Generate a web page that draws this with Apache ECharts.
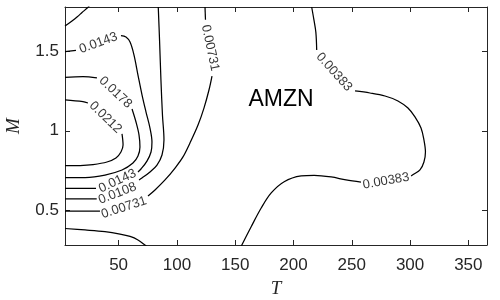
<!DOCTYPE html>
<html><head><meta charset="utf-8">
<script src="https://cdn.jsdelivr.net/npm/echarts@6/dist/echarts.min.js"></script>
<style>html,body{margin:0;padding:0;background:#fff}#c{width:500px;height:300px}</style>
</head><body><div id="c"></div>
<script>
// Axis ticks
const xTicks = [50, 100, 150, 200, 250, 300, 350];
const yTicks = [0.5, 1, 1.5];
const xRange = [4, 366];
const yRange = [0.28, 1.78];

// Contour lines (T, M) — each level split into segments where labels break the line
const c0212 = [
  [[4,1.194],[19.4,1.183],[23.7,1.175]],
  [[52.9,0.980],[53.8,0.910],[52.0,0.866],[47.7,0.828],[40.0,0.803],[28.0,0.787],[16.9,0.781],[4,0.780]]
];
const c0178 = [
  [[4,1.337],[19.4,1.341],[31.4,1.333]],
  [[61.5,1.137],[64.9,1.055],[67.5,0.973],[68.3,0.898],[66.6,0.841],[62.3,0.797],[52.9,0.753],[38.3,0.721],[21.2,0.705],[4,0.704]]
];
const c0143 = [
  [[4,1.498],[13.4,1.506]],
  [[52.0,1.600],[56.3,1.591],[59.8,1.559],[63.2,1.477],[66.6,1.351],[70.1,1.225],[73.5,1.118],[76.9,1.017],[78.6,0.929],[77.8,0.866],[74.3,0.809],[69.2,0.759],[66.6,0.740]],
  [[30.6,0.637],[4,0.637]]
];
const c0108 = [
  [[84.0,1.78],[85.1,1.572],[86.3,1.320],[87.6,1.099],[88.9,0.942],[87.2,0.847],[82.9,0.784],[76.9,0.740],[70.0,0.702],[67.5,0.690]],
  [[31.2,0.570],[4,0.570]]
];
const c00731 = [
  [[124.1,1.78],[124.5,1.70]],
  [[130.1,1.345],[127.5,1.257],[123.2,1.143],[118.1,1.036],[111.2,0.923],[105.2,0.835],[98.4,0.765],[89.8,0.690],[81.2,0.627],[75.2,0.589]],
  [[34.0,0.494],[4,0.494]]
];
const c00383 = [
  [[4,0.384],[21.2,0.375],[38.3,0.364],[51.2,0.349],[59.8,0.334],[66.6,0.312],[72.6,0.28],[75,0.265]],
  [[215.6,1.78],[217.5,1.70],[219.2,1.62],[219.9,1.509]],
  [[252.8,1.251],[265.6,1.238],[278.5,1.219],[289.6,1.188],[298.2,1.143],[304.2,1.087],[309.4,1.017],[311.9,0.942],[313.2,0.866],[311.9,0.803],[308.5,0.753],[303.4,0.727],[300.9,0.715]],
  [[257.9,0.677],[245.1,0.690],[232.3,0.709],[217.7,0.719],[206.6,0.715],[192.0,0.679],[180.9,0.608],[172.3,0.513],[163.7,0.395],[155.7,0.28],[154.5,0.26]]
];
const cCorner = [
  [[4,1.660],[10.0,1.692],[14.3,1.717],[18.6,1.745],[24,1.78],[25,1.79]]
];

// Contour labels
const labelText = ['0.0143','0.0178','0.0212','0.0143','0.0108','0.00731','0.00731','0.00383','0.00383'];
const labelT    = [32.7, 47.3, 38.7, 49.0, 49.0, 54.6, 128.4, 234.8, 279.4];
const labelM    = [1.553, 1.241, 1.084, 0.683, 0.605, 0.516, 1.522, 1.370, 0.683];
const labelRotate = [20, -43, -44, 25, 21, 18, -78, -48, 10];

const chart = echarts.init(document.getElementById('c'), null, {renderer:'canvas'});
const axisColor = '#262626';
const lineSeries = [];
[c0212, c0178, c0143, c0108, c00731, c00383, cCorner].forEach(level => {
  level.forEach(seg => {
    lineSeries.push({
      type:'line', data: seg, symbol:'none', smooth:0.35, silent:true,
      lineStyle:{color:'#000', width:1.25}, clip:true, animation:false, z:2
    });
  });
});
const labelSeries = {
  type:'scatter', symbolSize:0, silent:true, animation:false, z:3,
  itemStyle:{color:'transparent'},
  data: labelText.map((t,i)=>({name:t, value:[labelT[i], labelM[i]], label:{rotate:labelRotate[i]}})),
  label:{show:true, position:'inside', formatter:'{b}', fontSize:13, color:'#000',
         fontFamily:'Liberation Sans, Arial, sans-serif'}
};

const mkX = (pos, main) => ({
  type:'value', min:xRange[0], max:xRange[1], position:pos,
  axisLine:{show:true, onZero:false, lineStyle:{color:axisColor, width:1}},
  axisTick:{show:true, inside:true, length:5, customValues:xTicks, lineStyle:{color:axisColor}},
  axisLabel:{show:main, customValues:xTicks, color:axisColor, fontSize:17, margin:12,
             fontFamily:'Liberation Sans, Arial, sans-serif'},
  splitLine:{show:false},
  name: main ? 'T' : '', nameLocation:'middle', nameGap:34,
  nameTextStyle:{fontFamily:'Liberation Serif, Times New Roman, serif', fontStyle:'italic', fontSize:19, color:axisColor}
});
const mkY = (pos, main) => ({
  type:'value', min:yRange[0], max:yRange[1], position:pos,
  axisLine:{show:true, onZero:false, lineStyle:{color:axisColor, width:1}},
  axisTick:{show:true, inside:true, length:5, customValues:yTicks, lineStyle:{color:axisColor}},
  axisLabel:{show:main, customValues:yTicks, color:axisColor, fontSize:17, margin:6,
             fontFamily:'Liberation Sans, Arial, sans-serif'},
  splitLine:{show:false},
  name: main ? 'M' : '', nameLocation:'middle', nameGap:42, nameRotate:90,
  nameTextStyle:{fontFamily:'Liberation Serif, Times New Roman, serif', fontStyle:'italic', fontSize:19, color:axisColor}
});

chart.setOption({
  animation:false,
  backgroundColor:'#fff',
  grid:{left:65, right:13, top:7, bottom:55, containLabel:false, outerBoundsMode:'none'},
  xAxis:[mkX('bottom', true), mkX('top', false)],
  yAxis:[mkY('left', true), mkY('right', false)],
  graphic:[{type:'text', x:281, y:100, z:10,
    style:{text:'AMZN', fontSize:23, fontFamily:'Liberation Sans, Arial, sans-serif', fill:'#000', align:'center', verticalAlign:'middle'}}],
  series: lineSeries.concat([labelSeries])
});
</script>
</body></html>
